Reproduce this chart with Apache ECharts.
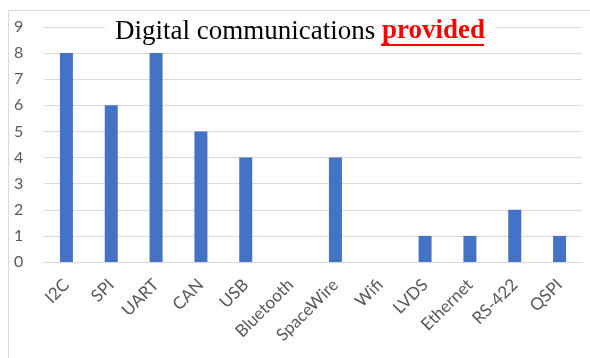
<!DOCTYPE html>
<html>
<head>
<meta charset="utf-8">
<script src="https://cdn.jsdelivr.net/npm/echarts@6/dist/echarts.min.js"></script>
<style>
  html, body { margin: 0; padding: 0; background: #fff; }
  #chart { width: 590px; height: 358px; }
</style>
</head>
<body>
<div id="chart"></div>
<script>
// Interfaces and how many designs provide each one
const categories = ['I2C', 'SPI', 'UART', 'CAN', 'USB', 'Bluetooth', 'SpaceWire', 'Wifi', 'LVDS', 'Ethernet', 'RS-422', 'QSPI'];
const counts = [8, 6, 8, 5, 4, 0, 4, 0, 1, 1, 2, 1];
const yTicks = [0, 1, 2, 3, 4, 5, 6, 7, 8, 9];

const chart = echarts.init(document.getElementById('chart'), null, { renderer: 'canvas' });

chart.setOption({
  animation: false,
  backgroundColor: '#ffffff',
  grid: { left: 44, right: 8, top: 27, bottom: 96, containLabel: false },
  title: {
    text: 'Digital communications {red|provided}',
    left: 290,
    top: 16,
    textAlign: 'center',
    backgroundColor: '#ffffff',
    padding: [2, 10, 2, 10],
    textStyle: {
      fontFamily: 'Liberation Serif',
      fontSize: 27,
      fontWeight: 'normal',
      color: '#000000',
      rich: {
        red: { fontFamily: 'Liberation Serif', fontSize: 27, fontWeight: 'bold', color: '#ff0000' }
      }
    },
    z: 10
  },
  xAxis: {
    type: 'category',
    data: categories,
    axisLine: { lineStyle: { color: '#d9d9d9' } },
    axisTick: { show: false },
    axisLabel: {
      rotate: 45,
      interval: 0,
      margin: 20,
      color: '#595959',
      fontFamily: 'Lato',
      fontSize: 17
    }
  },
  yAxis: {
    type: 'value',
    min: yTicks[0],
    max: yTicks[yTicks.length - 1],
    interval: 1,
    axisLine: { show: false },
    axisTick: { show: false },
    splitLine: { lineStyle: { color: '#d9d9d9', width: 1 } },
    axisLabel: {
      color: '#595959',
      fontFamily: 'Lato',
      fontSize: 16,
      margin: 30,
      align: 'left'
    }
  },
  series: [{
    type: 'bar',
    data: counts,
    barWidth: '29%',
    itemStyle: { color: '#4472c4' }
  }],
  graphic: [
    {
      type: 'rect',
      shape: { x: 8.5, y: 10.5, width: 600, height: 360 },
      style: { fill: 'none', stroke: '#d9d9d9', lineWidth: 1 },
      z: -10,
      silent: true
    },
    {
      // underline under the highlighted word
      type: 'rect',
      shape: { x: 381, y: 44, width: 103, height: 2 },
      style: { fill: '#ff0000' },
      z: 20,
      silent: true
    }
  ]
});
</script>
</body>
</html>
